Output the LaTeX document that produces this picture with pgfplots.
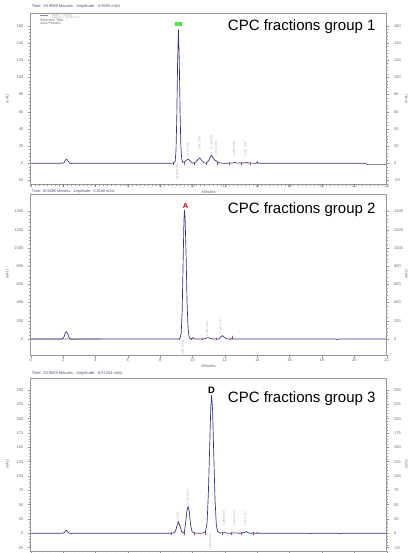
\documentclass[border=0pt]{standalone}
\usepackage{fontspec}
\setmainfont{Liberation Sans}
\usepackage{pgfplots}
\pgfplotsset{compat=1.18}
\definecolor{trace}{RGB}{52,52,135}
\definecolor{framec}{RGB}{150,150,150}
\definecolor{lbl}{RGB}{105,105,105}
\definecolor{pk}{RGB}{150,150,150}
\definecolor{intg}{RGB}{200,60,80}
\definecolor{boxg}{RGB}{70,225,60}
\newcommand\pkf{\fontsize{1.9}{2.2}\selectfont}
\newcommand\tkf{\fontsize{3}{3.5}\selectfont}
\newcommand\pl[3]{\node[rotate=90,anchor=west,inner sep=0pt,font=\pkf,text=pk] at (axis cs:#1,#2) {#3};}
\newcommand\plb[3]{\node[rotate=90,anchor=east,inner sep=0pt,font=\pkf,text=pk] at (axis cs:#1,#2) {#3};}
\pgfplotsset{
 chrom/.style={
  scale only axis, width=267pt, xmin=0, xmax=22,
  xtick={0,2,...,22}, minor x tick num=7, minor y tick num=4,
  xtick pos=bottom, ytick pos=both,
  axis line style={framec, line width=0.45pt},
  tick style={framec, line width=0.3pt},
  major tick length=2pt, minor tick length=1pt,
  tick align=outside,
  ticklabel style={font=\tkf, text=lbl},
  xticklabel style={yshift=2.4pt},
  /pgf/number format/assume math mode=true,
  /pgf/number format/1000 sep={},
  every axis x label/.style={at={(axis description cs:0.5,0)}, anchor=north, font=\tkf, text=lbl},
  every axis y label/.style={at={(axis description cs:-0.066,0.5)}, rotate=90, anchor=center, font=\tkf, text=lbl},
  clip=false,
 },
 rightlab/.style={
  hide x axis, yticklabel pos=right,
  every axis y label/.style={at={(axis description cs:1.055,0.5)}, rotate=90, anchor=center, font=\tkf, text=lbl},
  ylabel={mAU},
 }
}
\begin{document}
\begin{tikzpicture}[x=0.75pt,y=0.75pt]
\path[use as bounding box] (0,0) rectangle (408,-553);

% ---------------- Panel 1 ----------------
\begin{axis}[chrom, at={(23.025pt,-138.375pt)}, anchor=south west, height=128.6pt,
  ymin=-24.7, ymax=174.8, ytick={-20,0,...,160}, yticklabel pos=left,
  xticklabel style={yshift=3pt},
  xlabel={Minutes}, xlabel style={yshift=-1.3pt}, ylabel={mAU}]
\addplot[trace, line width=0.5pt] coordinates {
(0,0)(1.9,0)(2.05,0.5)(2.15,3.5)(2.22,4.7)(2.3,3)(2.4,0.5)(2.5,-0.3)(2.6,0)(3,0)
(8.6,0)(8.85,0.2)(8.93,2.5)(8.98,15)(9.03,55)(9.08,120)(9.13,155.5)(9.18,122)(9.23,60)(9.28,20)(9.33,5)(9.4,1)
(9.5,1.5)(9.6,3.5)(9.75,4.6)(9.88,2)(10.0,0.3)(10.15,0.5)(10.3,3.5)(10.45,6.2)(10.58,3)(10.72,0.5)
(10.85,0.3)(11.0,3)(11.1,7.5)(11.18,9.3)(11.28,6)(11.38,3.5)(11.45,3.2)(11.55,1.5)(11.7,0.3)
(12.0,0)(12.5,0.3)(12.62,1)(12.75,0.2)(13.2,0.3)(13.33,1)(13.45,0.3)(13.95,0)(14.0,2)(14.05,0)
(20.7,0)(20.8,-1.6)(22,-1.6)};
\addplot[only marks, mark=|, mark size=1pt, intg] coordinates {
(8.78,0)(9.48,0)(10.08,0)(10.85,0)(11.5,0)(12.25,0)(13.0,0)(13.57,0)};
\plb{9.05}{-1}{9.133 89.305}
\pl{9.71}{7.7}{9.753 1.302}
\pl{10.43}{13.5}{10.457 3.160}
\pl{11.18}{15.5}{11.180 3.567}
\pl{11.45}{8}{11.433 1.554}
\pl{12.56}{7.7}{12.620 0.785}
\pl{13.28}{7.7}{13.327 0.327}
\node[fill=boxg, minimum width=5.2pt, minimum height=3.4pt, inner sep=0pt, font=\fontsize{2.6}{3}\selectfont, text=green!30!white] at (axis cs:9.13,162) {B};
\end{axis}
\begin{axis}[chrom, rightlab, at={(23.025pt,-138.375pt)}, anchor=south west, height=128.6pt,
  ymin=-24.7, ymax=174.8, ytick={-20,0,...,160}]
\addplot[draw=none] coordinates {(0,0)};
\end{axis}

% ---------------- Panel 2 ----------------
\begin{axis}[chrom, at={(23.025pt,-266.25pt)}, anchor=south west, height=120.75pt,
  ymin=-176, ymax=1593, ytick={0,200,...,1400}, yticklabel pos=left,
  xlabel={Minutes}, xlabel style={yshift=-4pt}, ylabel={mAU}]
\addplot[gray!35, line width=1.6pt] coordinates {(0,0)(4.34,0)};
\addplot[trace, line width=0.5pt] coordinates {
(0,0)(1.95,0)(2.05,20)(2.13,65)(2.2,80)(2.28,60)(2.36,20)(2.45,0)(2.55,-5)(2.7,0)
(9.1,0)(9.22,5)(9.3,60)(9.36,300)(9.42,850)(9.47,1300)(9.5,1417)(9.54,1330)(9.6,950)(9.66,420)(9.72,130)(9.78,30)(9.85,5)(9.95,0)(10.03,15)(10.1,0)
(10.7,0)(10.85,8)(10.95,15)(11.08,8)(11.25,0)(11.6,0)(11.72,15)(11.84,37)(11.96,18)(12.1,2)(12.3,0)
(12.44,0)(12.46,20)(12.48,0)(18.8,0)(18.9,-6)(19.0,0)(22,0)};
\addplot[only marks, mark=|, mark size=1pt, intg] coordinates {
(9.19,0)(9.9,0)(10.58,0)(11.47,0)(12.33,0)};
\plb{9.4}{-10}{9.503 97.912}
\pl{10.9}{26}{10.952 0.623}
\pl{11.73}{62}{11.850 1.465}
\node[font=\bfseries\fontsize{5.5}{6}\selectfont, text=red!85!black, inner sep=0pt] at (axis cs:9.56,1465) {A};
\end{axis}
\begin{axis}[chrom, rightlab, at={(23.025pt,-266.25pt)}, anchor=south west, height=120.75pt,
  ymin=-176, ymax=1593, ytick={0,200,...,1400}]
\addplot[draw=none] coordinates {(0,0)};
\end{axis}

% ---------------- Panel 3 ----------------
\begin{axis}[chrom, at={(23.025pt,-413.25pt)}, anchor=south west, height=129.75pt,
  ymin=-30.9, ymax=270.9, ytick={-25,0,...,250}, yticklabel pos=left,
  xticklabels={}, ylabel={mAU}]
\addplot[trace, line width=0.5pt] coordinates {
(0,0)(1.95,0)(2.08,1.5)(2.2,5.2)(2.32,1.5)(2.45,-0.8)(2.6,0)
(8.6,0)(8.85,0.5)(8.95,4)(9.03,12)(9.13,20.3)(9.23,12)(9.33,3)(9.42,1)
(9.5,3)(9.58,20)(9.66,40)(9.73,46.5)(9.8,38)(9.88,15)(9.97,3)(10.1,0.5)
(10.45,0)(10.65,0.5)(10.8,3)(10.9,18)(10.98,70)(11.06,150)(11.13,220)(11.18,241)(11.24,215)(11.31,140)(11.39,60)(11.47,15)(11.55,3)(11.7,0.5)
(12.0,1)(12.3,0)(12.6,0.8)(12.9,0)(13.2,1.5)(13.33,3)(13.45,1)(13.6,0)(13.98,0)(14.0,1.5)(14.05,0)
(17.2,0)(17.3,-0.6)(17.4,0)(19.0,0)(19.1,-1)(19.3,0)(22,0)};
\addplot[only marks, mark=|, mark size=1pt, intg] coordinates {
(8.68,0)(9.46,0)(10.12,0)(10.8,0)(11.84,0)(12.42,0)(13.0,0)(13.74,0)};
\pl{9.09}{12.8}{9.137 5.655}
\pl{9.71}{50.6}{9.733 14.545}
\plb{11.1}{-1}{11.180 78.975}
\pl{11.94}{12}{11.983 0.288}
\pl{12.58}{12}{12.603 0.162}
\pl{13.28}{12}{13.327 1.227}
\node[font=\bfseries\fontsize{7}{8}\selectfont, inner sep=0pt] at (axis cs:11.18,250) {D};
\end{axis}
\begin{axis}[chrom, rightlab, at={(23.025pt,-413.25pt)}, anchor=south west, height=129.75pt,
  ymin=-30.9, ymax=270.9, ytick={-25,0,...,250}]
\addplot[draw=none] coordinates {(0,0)};
\end{axis}

% ---------------- Titles and annotations ----------------
\node[anchor=west, inner sep=0pt, font=\tkf, text=trace!70!gray] at (31.7,-6) {Time: 29.9589 Minutes - Amplitude: -4.9505 mAU};
\node[anchor=west, inner sep=0pt, font=\fontsize{2.8}{3.2}\selectfont, text=trace!70!gray] at (31.7,-191.6) {Time: 30.9086 Minutes - Amplitude: -0.3186 mAU};
\node[anchor=west, inner sep=0pt, font=\tkf, text=trace!70!gray] at (31.7,-373.5) {Time: 20.9504 Minutes - Amplitude: -0.57424 mAU};

\draw[trace!60, line width=0.4pt] (40,-15.7)--(48.3,-15.7);
\node[anchor=west, inner sep=0pt, font=\fontsize{2.3}{2.6}\selectfont, text=gray!60] at (51.7,-15.3) {DAD1 - 280nm};
\node[anchor=west, inner sep=0pt, font=\fontsize{2.3}{2.6}\selectfont, text=gray!60] at (51.7,-17.8) {Sample 1 fraction 21};
\node[anchor=west, inner sep=0pt, font=\fontsize{2.6}{3}\selectfont, text=gray!80!black] at (40,-20.6) {Retention Time};
\node[anchor=west, inner sep=0pt, font=\fontsize{2.6}{3}\selectfont, text=gray!80!black] at (40,-23.8) {Area Percent};

\node[anchor=base west, inner sep=0pt, font=\fontsize{11.25}{13}\selectfont] at (227.7,-30) {CPC fractions group 1};
\node[anchor=base west, inner sep=0pt, font=\fontsize{11.25}{13}\selectfont] at (227.7,-213.3) {CPC fractions group 2};
\node[anchor=base west, inner sep=0pt, font=\fontsize{11.25}{13}\selectfont] at (227.7,-402.3) {CPC fractions group 3};
\end{tikzpicture}
\end{document}
